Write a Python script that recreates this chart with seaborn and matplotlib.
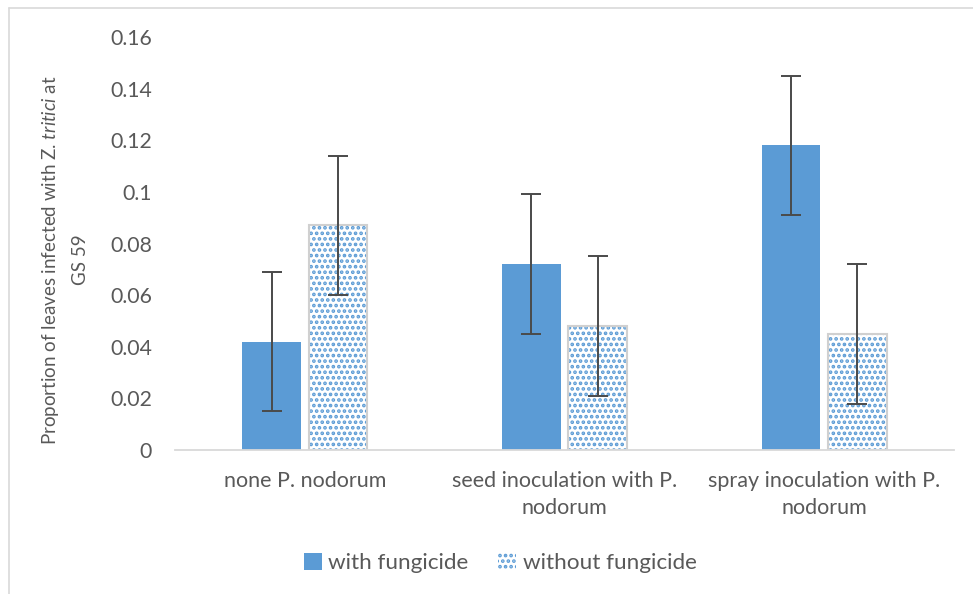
import matplotlib
matplotlib.use("Agg")
import matplotlib.pyplot as plt
from matplotlib.patches import Patch, Rectangle
import seaborn as sns
import pandas as pd

# Data
categories = ["none P. nodorum",
              "seed inoculation with P.\nnodorum",
              "spray inoculation with P.\nnodorum"]
treatments = ["with fungicide", "without fungicide"]
with_fungicide = [0.042, 0.072, 0.118]
without_fungicide = [0.087, 0.048, 0.045]
err_with = [0.027, 0.027, 0.027]
err_without = [0.027, 0.027, 0.027]
yticks = [0, 0.02, 0.04, 0.06, 0.08, 0.1, 0.12, 0.14, 0.16]
ytick_labels = ["0", "0.02", "0.04", "0.06", "0.08", "0.1", "0.12", "0.14", "0.16"]

BLUE = "#5B9BD5"
TEXT = "#595959"
GRID = "#D9D9D9"

sns.set_theme(style="white")
plt.rcParams["font.family"] = ["Lato", "DejaVu Sans"]
plt.rcParams["mathtext.fontset"] = "custom"
plt.rcParams["mathtext.rm"] = "Lato"
plt.rcParams["mathtext.it"] = "Lato:italic"
plt.rcParams["hatch.linewidth"] = 1.8

df = pd.DataFrame({
    "category": categories * 2,
    "treatment": [treatments[0]] * 3 + [treatments[1]] * 3,
    "value": with_fungicide + without_fungicide,
    "err": err_with + err_without,
})

fig = plt.figure(figsize=(9.73, 5.94), dpi=100)
ax = fig.add_axes([175 / 973, 1 - 450 / 594, (954 - 175) / 973, (450 - 37) / 594])

sns.barplot(data=df, x="category", y="value", hue="treatment",
            order=categories, hue_order=treatments,
            palette=[BLUE, "white"], width=0.51, gap=0.113,
            errorbar=None, legend=False, ax=ax, saturation=1)

# style bars: solid blue for first series, dotted pattern for the second
bars = [p for p in ax.patches if isinstance(p, Rectangle)]
n = len(categories)
solid, dotted = bars[:n], bars[n:2 * n]
for p in solid:
    p.set_facecolor(BLUE)
    p.set_edgecolor("none")
for p in dotted:
    p.set_facecolor("white")
    p.set_edgecolor(BLUE)
    p.set_linewidth(0)
    p.set_hatch("...")
    outline = Rectangle((p.get_x(), p.get_y()), p.get_width(), p.get_height(),
                        fill=False, edgecolor="#D0D0D0", linewidth=1.5, zorder=p.get_zorder() + 0.1)
    ax.add_patch(outline)

# error bars
for group, vals, errs in ((solid, with_fungicide, err_with), (dotted, without_fungicide, err_without)):
    xs = [p.get_x() + p.get_width() / 2 for p in group]
    ax.errorbar(xs, vals, yerr=errs, fmt="none", ecolor="#4A4A4A",
                elinewidth=1.4, capsize=7, capthick=1.4, zorder=5)

ax.set_ylim(0, 0.16)
ax.set_xlim(-0.5, n - 0.5)
ax.set_yticks(yticks)
ax.set_yticklabels(ytick_labels)
ax.tick_params(axis="both", length=0, colors=TEXT)
ax.tick_params(axis="y", pad=16.5, labelsize=15.3)
ax.tick_params(axis="x", pad=15, labelsize=15.5)
for lbl in ax.get_xticklabels():
    lbl.set_linespacing(1.45)

for side in ("top", "right", "left"):
    ax.spines[side].set_visible(False)
ax.spines["bottom"].set_color(GRID)
ax.spines["bottom"].set_linewidth(1.3)
ax.grid(False)

ax.set_xlabel("")
ax.set_ylabel("Proportion of leaves infected with Z. $\\mathit{tritici}$ at\nGS 59",
              fontsize=13.5, color=TEXT, linespacing=1.75)
ax.yaxis.set_label_coords(-0.111, 0.46)

handles = [Patch(facecolor=BLUE, edgecolor="none"),
           Patch(facecolor="white", edgecolor=BLUE, hatch="...", linewidth=0)]
leg = fig.legend(handles, treatments, loc="center", bbox_to_anchor=(500 / 973, 1 - 563 / 594),
                 ncol=2, frameon=False, fontsize=16.2, handlelength=0.8, handleheight=0.8,
                 handletextpad=0.3, columnspacing=1.3)
for t in leg.get_texts():
    t.set_color(TEXT)

# chart area border
fig.add_artist(plt.Line2D([9 / 973, 9 / 973], [0, 1 - 8 / 594], transform=fig.transFigure,
                          color=GRID, linewidth=1.2))
fig.add_artist(plt.Line2D([9 / 973, 1], [1 - 8 / 594, 1 - 8 / 594], transform=fig.transFigure,
                          color=GRID, linewidth=1.2))

fig.savefig("out.png", dpi=100)
